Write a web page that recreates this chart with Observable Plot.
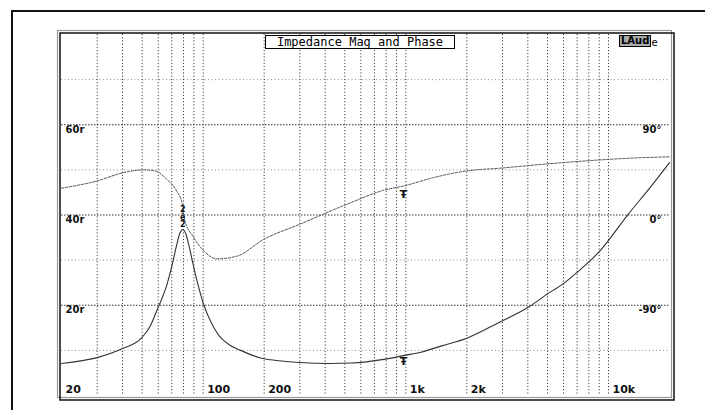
<!DOCTYPE html>
<html><head><meta charset="utf-8">
<script src="https://cdn.jsdelivr.net/npm/d3@7"></script>
<script src="https://cdn.jsdelivr.net/npm/@observablehq/plot@0.6"></script>
<style>
body{margin:0;background:#fff;}
#wrap{position:relative;width:705px;height:410px;overflow:hidden;}
#outer{position:absolute;left:11px;top:10px;width:700px;height:410px;border-top:2px solid #111;border-left:2px solid #111;}
#title{position:absolute;left:265px;top:35px;width:188px;height:12px;border:1px solid #000;background:#fff;font:12px "DejaVu Sans Mono",monospace;line-height:12px;text-align:center;color:#000;}
#logo{position:absolute;left:619px;top:35px;font:bold 10px "DejaVu Sans",sans-serif;color:#000;}
#logo span.b{display:inline-block;background:#aaa;border:1px solid #000;padding:0 1px;line-height:10px;}
#logo span.e{font-weight:normal;font-size:10px;vertical-align:-2px;}
</style>
</head><body>
<div id="wrap">
<div id="outer"></div>
<div id="chart"></div>
<div id="title">Impedance Mag and Phase</div>
<div id="logo"><span class="b">LAud</span><span class="e">e</span></div>
</div>
<script>
// Impedance magnitude (ohm) vs frequency (Hz)
const magFreq = [20, 30, 40, 50, 55, 59.3, 63, 66, 70, 74, 77, 79.3, 82, 85, 90, 95, 100, 110, 120, 135, 153, 192, 250, 300, 424, 535, 779, 989, 1186, 1500, 2000, 2917, 4000, 5152, 6000, 7007, 9100, 12480, 16000, 20000];
const magOhm  = [7.1, 8.4, 10.4, 12.9, 15.5, 19.0, 21.8, 24.3, 28.6, 33.3, 36.1, 36.8, 35.9, 33.3, 28.3, 24, 20.5, 16, 13.2, 11.2, 10, 8.3, 7.6, 7.3, 7.1, 7.2, 8.0, 8.9, 9.6, 11, 12.7, 16.3, 19.5, 22.9, 24.8, 27.3, 32.1, 40.1, 46, 51.6];
// Phase (degrees) vs frequency (Hz)
const phaseFreq = [20, 30, 40, 51, 58, 66, 74, 79, 80, 90, 101, 117, 147, 199, 299, 535, 778, 978, 1370, 2000, 2917, 5740, 14000, 20000];
const phaseDeg  = [26.7, 34, 42, 45, 44, 35.7, 24, 10.7, -1, -22.7, -36, -43.7, -41, -24.3, -9.3, 12.3, 24.7, 29, 37.3, 44, 46.7, 52, 57, 58];
// Grid and tick labels
const gridFreqs = [30,40,50,60,70,80,90,100,200,300,400,500,600,700,800,900,1000,2000,3000,4000,5000,6000,7000,8000,9000,10000];
const xTickValues = [20, 100, 200, 1000, 2000, 10000];
const xTickLabels = ["20", "100", "200", "1k", "2k", "10k"];
const ohmGridMajor = [20, 40, 60];
const ohmGridMinor = [10, 30, 50, 70];
const ohmLabels = ["20r", "40r", "60r"];
const phaseTicks = [90, 0, -90];
const phaseLabels = ["90°", "0°", "-90°"];
// Cursor markers
const cursorFreq = [973];
const peakFreq = [79.3];
const peakGlyphs = "2\nē\n2";

const ohmDomain = [0, 80];
const phaseDomain = [-180, 180];
const phaseToOhm = d3.scaleLinear().domain(phaseDomain).range(ohmDomain);

const mag = magFreq.map((f, i) => ({f, v: magOhm[i]}));
const phase = phaseFreq.map((f, i) => ({f, v: phaseToOhm(phaseDeg[i])}));
const magAt = f => d3.scaleLog().domain(magFreq).range(magOhm)(f);
const phAt = f => phaseToOhm(d3.scaleLog().domain(phaseFreq).range(phaseDeg)(f));

const font = {fontFamily: "DejaVu Sans, sans-serif", fontWeight: "bold", fontSize: 11, fill: "#111"};

const chart = Plot.plot({
  width: 705, height: 410,
  marginLeft: 61, marginRight: 36, marginTop: 34, marginBottom: 15,
  x: {type: "log", domain: [20, 20000], axis: null},
  y: {domain: ohmDomain, axis: null},
  style: {background: "transparent", fontFamily: "DejaVu Sans, sans-serif"},
  marks: [
    Plot.ruleX(gridFreqs, {stroke: "#000", strokeOpacity: 0.75, strokeDasharray: "1.2,2"}),
    Plot.ruleY(ohmGridMinor, {stroke: "#000", strokeOpacity: 0.45, strokeDasharray: "1,2.5"}),
    Plot.ruleY(ohmGridMajor, {stroke: "#000", strokeOpacity: 0.8, strokeDasharray: "1.5,1.5"}),
    Plot.frame({stroke: "#999", strokeWidth: 1.2, inset: -3, dx: -1, dy: -1}),
    Plot.frame({stroke: "#111", strokeWidth: 1.5, inset: -3, dx: 1.5, dy: 1.5}),
    Plot.line(phase, {x: "f", y: "v", stroke: "#555", strokeWidth: 1, strokeDasharray: "2.5,1.5", curve: "monotone-x"}),
    Plot.line(mag, {x: "f", y: "v", stroke: "#333", strokeWidth: 1.1, curve: "monotone-x"}),
    Plot.text(xTickValues, {x: d => d, y: 0, text: (d, i) => xTickLabels[i], textAnchor: "start", dx: 4, dy: -6, ...font}),
    Plot.text(ohmGridMajor, {x: 20, y: d => d, text: (d, i) => ohmLabels[i], textAnchor: "start", dx: 4, dy: 5, ...font, fontSize: 10}),
    Plot.text(phaseTicks, {x: 20000, y: d => phaseToOhm(d), text: (d, i) => phaseLabels[i], textAnchor: "end", dx: -8, dy: 5, ...font, fontSize: 10}),
    Plot.text(cursorFreq, {x: d => d, y: d => phAt(d), text: () => "Ŧ", dy: 8, ...font, fontSize: 11}),
    Plot.text(cursorFreq, {x: d => d, y: d => magAt(d), text: () => "Ŧ", dy: 6, ...font, fontSize: 11}),
    Plot.text(peakFreq, {x: d => d, y: d => magAt(d), text: () => peakGlyphs, lineAnchor: "bottom", lineHeight: 0.95, dy: -2, ...font, fontSize: 8})
  ]
});
chart.style.position = "absolute";
chart.style.left = "0px";
chart.style.top = "0px";
document.getElementById("chart").appendChild(chart);
</script>
</body></html>
